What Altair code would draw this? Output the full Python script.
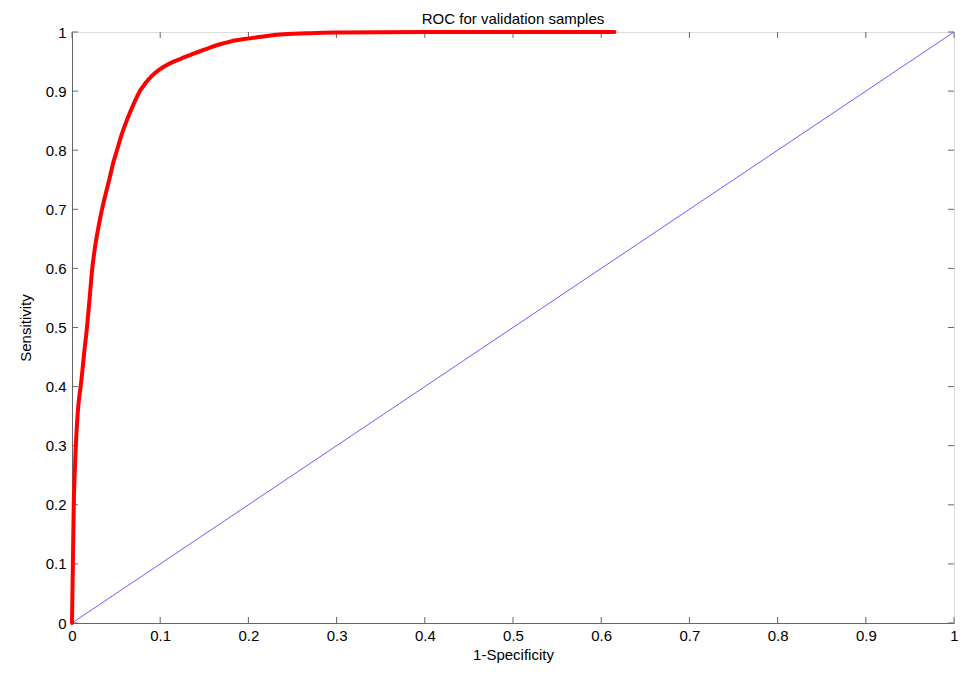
import altair as alt
import pandas as pd

# ROC curve values
roc_fpr = [0.0, 0.0005, 0.001, 0.0015, 0.002, 0.003, 0.004, 0.005, 0.0065, 0.008, 0.0098,
           0.012, 0.014, 0.017, 0.020, 0.023, 0.026, 0.030, 0.034, 0.038, 0.043, 0.047,
           0.051, 0.056, 0.062, 0.069, 0.077, 0.083, 0.090, 0.098, 0.105, 0.114, 0.124,
           0.137, 0.150, 0.165, 0.180, 0.195, 0.21, 0.225, 0.24, 0.27, 0.30, 0.40, 0.50, 0.615]
roc_tpr = [0.0, 0.05, 0.10, 0.15, 0.20, 0.25, 0.29, 0.32, 0.355, 0.38, 0.40,
           0.43, 0.46, 0.50, 0.55, 0.60, 0.635, 0.67, 0.70, 0.725, 0.755, 0.78,
           0.80, 0.825, 0.85, 0.875, 0.90, 0.913, 0.925, 0.935, 0.942, 0.949, 0.955,
           0.963, 0.970, 0.978, 0.984, 0.988, 0.991, 0.994, 0.996, 0.998, 0.999, 1.0, 1.0, 1.0]
diag_x = [0.0, 1.0]
diag_y = [0.0, 1.0]
tick_values = [0.0, 0.1, 0.2, 0.3, 0.4, 0.5, 0.6, 0.7, 0.8, 0.9, 1.0]

roc = pd.DataFrame({"fpr": roc_fpr, "tpr": roc_tpr})
diag = pd.DataFrame({"fpr": diag_x, "tpr": diag_y})
ticks = pd.DataFrame({"v": tick_values})

W, H = 882, 591
FONT = "Liberation Sans"
AX = "#666666"

xscale = alt.Scale(domain=[0, 1], nice=False, zero=False)
yscale = alt.Scale(domain=[0, 1], nice=False, zero=False)

xaxis = alt.Axis(values=tick_values, format=".1~f", title="1-Specificity", grid=False,
                 ticks=False, domainColor=AX, labelColor="black", labelFontSize=15,
                 labelFont=FONT, labelPadding=5, titleFont=FONT, titleFontSize=15,
                 titleFontWeight="normal", titleColor="black", titlePadding=4,
                 labelFlush=False)
yaxis = alt.Axis(values=tick_values, format=".1~f", title="Sensitivity", grid=False,
                 ticks=False, domainColor=AX, labelColor="black", labelFontSize=15,
                 labelFont=FONT, labelPadding=6, titleFont=FONT, titleFontSize=15,
                 titleFontWeight="normal", titleColor="black", titlePadding=12,
                 labelFlush=False)

diag_line = alt.Chart(diag).mark_line(color="#5050ff", strokeWidth=0.9).encode(
    x=alt.X("fpr:Q", scale=xscale, axis=xaxis),
    y=alt.Y("tpr:Q", scale=yscale, axis=yaxis),
)

roc_line = alt.Chart(roc).mark_line(color="#ff0000", strokeWidth=4, strokeJoin="round",
                                    strokeCap="round", interpolate="monotone").encode(
    x=alt.X("fpr:Q", scale=xscale),
    y=alt.Y("tpr:Q", scale=yscale),
    order="fpr:Q",
)

tl = 6
bottom_ticks = alt.Chart(ticks).mark_rule(color=AX, strokeWidth=1).encode(
    x=alt.X("v:Q", scale=xscale), y=alt.value(H), y2=alt.value(H - tl))
top_ticks = alt.Chart(ticks).mark_rule(color=AX, strokeWidth=1).encode(
    x=alt.X("v:Q", scale=xscale), y=alt.value(0), y2=alt.value(tl))
left_ticks = alt.Chart(ticks).mark_rule(color=AX, strokeWidth=1).encode(
    y=alt.Y("v:Q", scale=yscale), x=alt.value(0), x2=alt.value(tl))
right_ticks = alt.Chart(ticks).mark_rule(color=AX, strokeWidth=1).encode(
    y=alt.Y("v:Q", scale=yscale), x=alt.value(W), x2=alt.value(W - tl))

chart = alt.layer(bottom_ticks, top_ticks, left_ticks, right_ticks, diag_line, roc_line).properties(
    width=W, height=H,
    title=alt.TitleParams("ROC for validation samples", font=FONT, fontSize=15,
                          fontWeight="normal", color="black", anchor="middle", offset=-2),
    autosize=alt.AutoSizeParams(type="none"),
    padding={"left": 64, "top": 24, "right": 4, "bottom": 44},
).configure_view(stroke=AX, strokeWidth=1).configure(background="white")

chart.save("out.html", embed_options={"renderer": "svg", "actions": False})
